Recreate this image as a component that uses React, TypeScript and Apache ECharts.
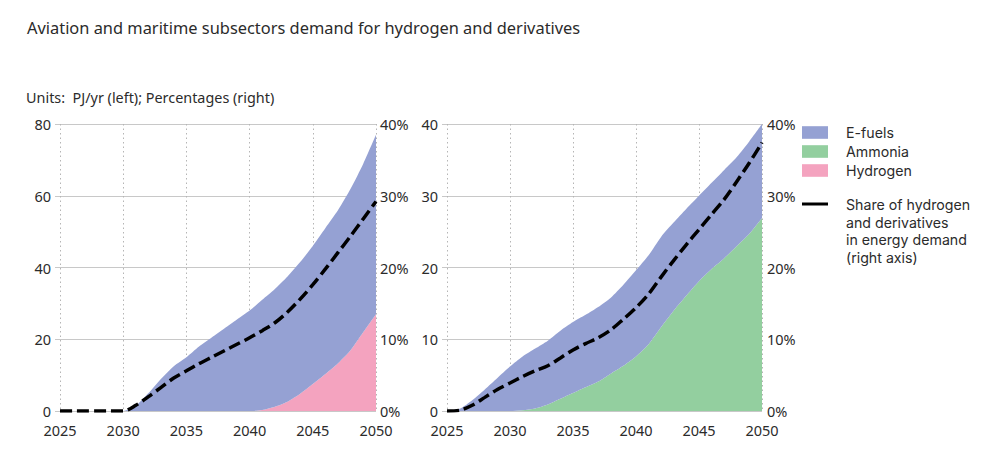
import React, { useEffect, useRef } from "react";
import * as echarts from "echarts";

const years = Array.from({ length: 26 }, (_, i) => String(2025 + i));

// Left panel (aviation), PJ/yr
const leftHydrogen = [0, 0, 0, 0, 0, 0, 0, 0, 0, 0, 0, 0, 0, 0, 0, 0, 0.3, 1.2, 2.6, 4.8, 7.5, 10.3, 13.3, 17, 22, 27];
const leftTotal = [0, 0, 0, 0, 0, 0, 1.5, 5, 9, 12.5, 15, 18, 20.5, 23, 25.5, 28, 31, 34, 37.5, 41.5, 46, 51, 56, 62, 69, 77];
const leftEfuels = leftTotal.map((t, i) => +(t - leftHydrogen[i]).toFixed(2));
const leftShare = [0, 0, 0, 0, 0, 0, 0.8, 2, 3.3, 4.6, 5.6, 6.6, 7.5, 8.4, 9.3, 10.2, 11.2, 12.3, 13.8, 15.6, 17.6, 19.8, 22.1, 24.4, 26.8, 29.2];

// Right panel (maritime), PJ/yr
const rightAmmonia = [0, 0, 0, 0, 0, 0, 0.1, 0.35, 0.9, 1.7, 2.5, 3.3, 4.1, 5.2, 6.3, 7.6, 9.3, 11.7, 14, 16.1, 18.1, 19.8, 21.3, 23, 24.7, 26.9];
const rightTotal = [0, 0.3, 1.5, 3, 4.6, 6.2, 7.6, 8.7, 9.8, 11.2, 12.4, 13.4, 14.5, 15.8, 17.6, 19.6, 21.7, 24.3, 26.3, 28.2, 30, 31.8, 33.6, 35.4, 37.6, 40];
const rightEfuels = rightTotal.map((t, i) => +(t - rightAmmonia[i]).toFixed(2));
const rightShare = [0, 0.1, 0.8, 1.9, 3, 3.9, 4.8, 5.6, 6.3, 7.4, 8.5, 9.4, 10.2, 11.3, 12.8, 14.4, 16.3, 18.7, 21, 23.2, 25.3, 27.4, 29.5, 32, 34.6, 37.4];

const leftTicksMax = 80;
const rightTicksMax = 40;
const shareMax = 40;

const title = "Aviation and maritime subsectors demand for hydrogen and derivatives";
const unitsText = "Units:  PJ/yr (left); Percentages (right)";
const shareLegend = ["Share of hydrogen", "and derivatives", "in energy demand", "(right axis)"];

const C_EFUELS = "#95A1D3";
const C_AMMONIA = "#93CF9F";
const C_HYDROGEN = "#F4A3BF";
const FONT = "Noto Sans";
const LEG_FONT = "Inter";
const TXT = "#2b2b2b";

export default function App() {
  const ref = useRef<HTMLDivElement>(null);
  useEffect(() => {
    document.body.style.margin = "0";
    const chart = echarts.init(ref.current!, undefined, { renderer: "svg" });

    const xAxisBase = (gridIndex: number) => ({
      type: "category",
      gridIndex,
      data: years,
      boundaryGap: false,
      axisLine: { show: false },
      axisTick: { show: false },
      axisLabel: { interval: 4, color: TXT, fontSize: 14.5, lineHeight: 14, fontFamily: FONT, margin: 12 },
      splitLine: { show: true, interval: 4, lineStyle: { color: "#b5b5b5", type: [1.5, 3], width: 1 } },
    });
    const yLeft = (gridIndex: number, max: number) => ({
      type: "value",
      gridIndex,
      min: 0,
      max,
      interval: max / 4,
      position: "left",
      axisLine: { show: false },
      axisTick: { show: true, length: 5, lineStyle: { color: "#c8c8c8" } },
      axisLabel: { color: TXT, fontSize: 14.5, lineHeight: 14, fontFamily: FONT, margin: 9 },
      splitLine: { show: true, lineStyle: { color: "#c8c8c8", width: 1 } },
    });
    const yRight = (gridIndex: number, margin: number) => ({
      type: "value",
      gridIndex,
      min: 0,
      max: shareMax,
      interval: 10,
      position: "right",
      axisLine: { show: false },
      axisTick: { show: false },
      axisLabel: { color: TXT, fontSize: 14.5, lineHeight: 14, fontFamily: FONT, margin, formatter: "{value}%" },
      splitLine: { show: false },
    });

    const area = (name: string, data: number[], color: string, xi: number, yi: number, stack: string) => ({
      name,
      type: "line",
      xAxisIndex: xi,
      yAxisIndex: yi,
      stack,
      data,
      smooth: 0.25,
      showSymbol: false,
      symbol: "none",
      lineStyle: { width: 0, color },
      itemStyle: { color },
      areaStyle: { color, opacity: 1 },
      z: 2,
    });
    const share = (data: number[], xi: number, yi: number) => ({
      name: "Share",
      type: "line",
      xAxisIndex: xi,
      yAxisIndex: yi,
      data,
      smooth: 0.3,
      showSymbol: false,
      symbol: "none",
      lineStyle: { color: "#000", width: 3.5, type: [12, 5] },
      itemStyle: { color: "#000" },
      z: 5,
    });

    const legendLines = shareLegend.map((t, i) => ({
      type: "text",
      left: 846,
      top: 197.5 + i * 17.5,
      style: { text: t, fontSize: 14.2, lineHeight: 14, fontFamily: LEG_FONT, fill: TXT },
    }));

    chart.setOption({
      animation: false,
      textStyle: { fontFamily: FONT },
      grid: [
        { left: 60, top: 124, width: 316, height: 287 },
        { left: 447, top: 124, width: 315, height: 287 },
      ],
      xAxis: [xAxisBase(0), xAxisBase(1)],
      yAxis: [yLeft(0, leftTicksMax), yRight(0, 4), yLeft(1, rightTicksMax), yRight(1, 5)],
      legend: {
        orient: "vertical",
        left: 802,
        top: 125.5,
        padding: 0,
        itemWidth: 26,
        itemHeight: 12.6,
        itemGap: 5,
        icon: "rect",
        selectedMode: false,
        textStyle: { color: TXT, fontSize: 14.2, lineHeight: 13, fontFamily: LEG_FONT, padding: [0, 0, 0, 13] },
        data: ["E-fuels", "Ammonia", "Hydrogen"],
      },
      series: [
        area("Hydrogen", leftHydrogen, C_HYDROGEN, 0, 0, "L"),
        area("E-fuels", leftEfuels, C_EFUELS, 0, 0, "L"),
        share(leftShare, 0, 1),
        area("Ammonia", rightAmmonia, C_AMMONIA, 1, 2, "R"),
        area("E-fuels", rightEfuels, C_EFUELS, 1, 2, "R"),
        share(rightShare, 1, 3),
      ],
      graphic: [
        {
          type: "text",
          left: 27,
          top: 19,
          style: { text: title, fontSize: 16.4, fontFamily: FONT, fill: TXT },
        },
        {
          type: "text",
          left: 26,
          top: 90,
          style: { text: unitsText, fontSize: 14.4, fontFamily: FONT, fill: TXT },
        },
        {
          type: "line",
          shape: { x1: 802, y1: 204, x2: 828, y2: 204 },
          style: { stroke: "#000", lineWidth: 3 },
        },
        ...legendLines,
      ],
    });
    return () => chart.dispose();
  }, []);
  return <div ref={ref} style={{ width: 989, height: 474 }} />;
}
